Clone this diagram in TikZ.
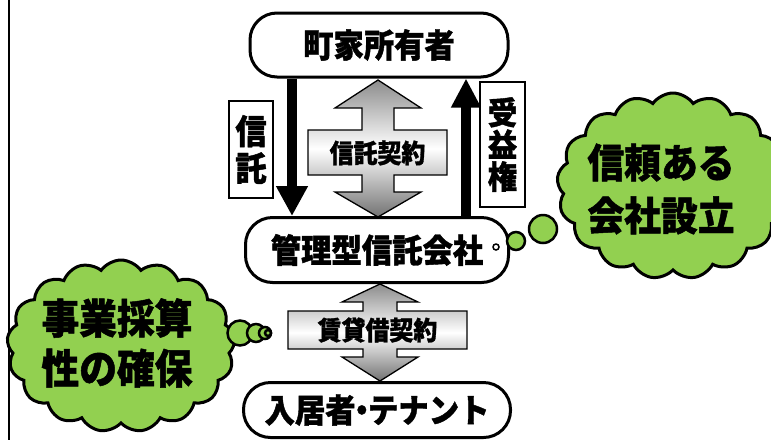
\documentclass[tikz,border=0pt]{standalone}
\usepackage{fontspec}
\newfontfamily\jp{Noto Sans CJK JP}[FakeStretch=0.92,BoldFeatures={FakeBold=1.2}]
\usetikzlibrary{shapes.symbols,arrows.meta}
\definecolor{cloudgreen}{HTML}{92D050}
\begin{document}
\begin{tikzpicture}[x=1pt,y=-1pt,
  mainbox/.style={draw,line width=3pt,rounded corners=27pt,fill=white,inner sep=0pt,
    font=\jp\bfseries\fontsize{33}{33}\selectfont},
  labbox/.style={draw,line width=1.6pt,fill=white,inner sep=0pt,align=center},
  thickarrow/.style={line width=10pt},
  blockarrow/.style={draw=black,line width=1.3pt,top color=black!45,bottom color=black!55,middle color=white},
  arrowlabel/.style={inner sep=0pt,font=\jp\bfseries\fontsize{26}{26}\selectfont},
  cloudbox/.style={cloud,cloud puffs=17,cloud puff arc=110,cloud ignores aspect,draw=black,line width=3pt,fill=cloudgreen,inner sep=0pt},
  cloudtext/.style={inner sep=0pt,align=center},
  puff/.style={draw=black,line width=2.5pt,fill=cloudgreen},
  dot/.style={draw=black,line width=1.5pt,fill=white}
]
\useasboundingbox (0,0) rectangle (771,440);
\draw[line width=2.5pt] (9,0) -- (9,440);

% clouds
\node[cloudbox,minimum width=232pt,minimum height=186pt] (cloudR) at (673,186) {};
\node[cloudtext,font=\jp\bfseries\fontsize{40}{53}\selectfont] (textR) at (661,189) {信頼ある\\会社設立};
\node[cloudbox,minimum width=228pt,minimum height=172pt] (cloudL) at (121,346) {};
\node[cloudtext,font=\jp\bfseries\fontsize{41}{50}\selectfont] (textL) at (117,343) {事業採算\\性の確保};

% main boxes
\node[mainbox,minimum width=258pt,minimum height=64pt] (owner) at (379,45) {町家所有者};
\node[mainbox,minimum width=263pt,minimum height=65pt] (trust) at (377,250) {管理型信託会社};
\node[mainbox,minimum width=267pt,minimum height=55pt] (tenant) at (377,410) {入居者\hspace{-9pt}・\hspace{-9pt}テナント};

% thought tails
\node[dot,circle,minimum size=6pt,inner sep=0pt] (dR1) at (496,247) {};
\node[puff,circle,minimum size=18pt,inner sep=0pt] (dR2) at (516,241) {};
\node[puff,circle,minimum size=28pt,inner sep=0pt] (dR3) at (543,229) {};
\node[puff,circle,minimum size=25pt,inner sep=0pt] (dL1) at (240,333) {};
\node[puff,circle,minimum size=18pt,inner sep=0pt] (dL2) at (256,333) {};
\node[puff,circle,minimum size=12pt,inner sep=0pt] (dL3) at (265,333) {};
\node[puff,circle,minimum size=6pt,inner sep=0pt] (dL4) at (268,333) {};

% thick arrows
\draw[thickarrow,-{Triangle[length=30pt,width=30pt]}] (owner.south -| 292,0) -- (trust.north -| 292,0);
\draw[thickarrow,-{Triangle[length=29pt,width=28pt]}] (trust.north -| 466,0) -- (owner.south -| 466,0);

% label boxes
\node[labbox,minimum width=44pt,minimum height=97pt,font=\jp\bfseries\fontsize{34}{37}\selectfont] (shin) at (251,149.5) {信\\託};
\node[labbox,minimum width=45pt,minimum height=125pt,font=\jp\bfseries\fontsize{32}{32}\selectfont] (jueki) at (502.5,144.5) {受\\益\\権};

% block double arrows
\path[blockarrow] (378,80) -- (421,108) -- (394,108) -- (394,130) -- (447,130) -- (447,175)
  -- (394,175) -- (394,192) -- (421,192) -- (378,217) -- (335,192) -- (362,192) -- (362,175)
  -- (308,175) -- (308,130) -- (362,130) -- (362,108) -- (335,108) -- cycle;
\node[arrowlabel] (contract1) at (377.5,153) {信託契約};

\path[blockarrow] (380,284) -- (418,302) -- (397,302) -- (397,311) -- (467,311) -- (467,349)
  -- (397,349) -- (397,357) -- (418,357) -- (380,381) -- (342,357) -- (363,357) -- (363,349)
  -- (288,349) -- (288,311) -- (363,311) -- (363,302) -- (342,302) -- cycle;
\node[arrowlabel] (contract2) at (377.5,330) {賃貸借契約};
\end{tikzpicture}
\end{document}
